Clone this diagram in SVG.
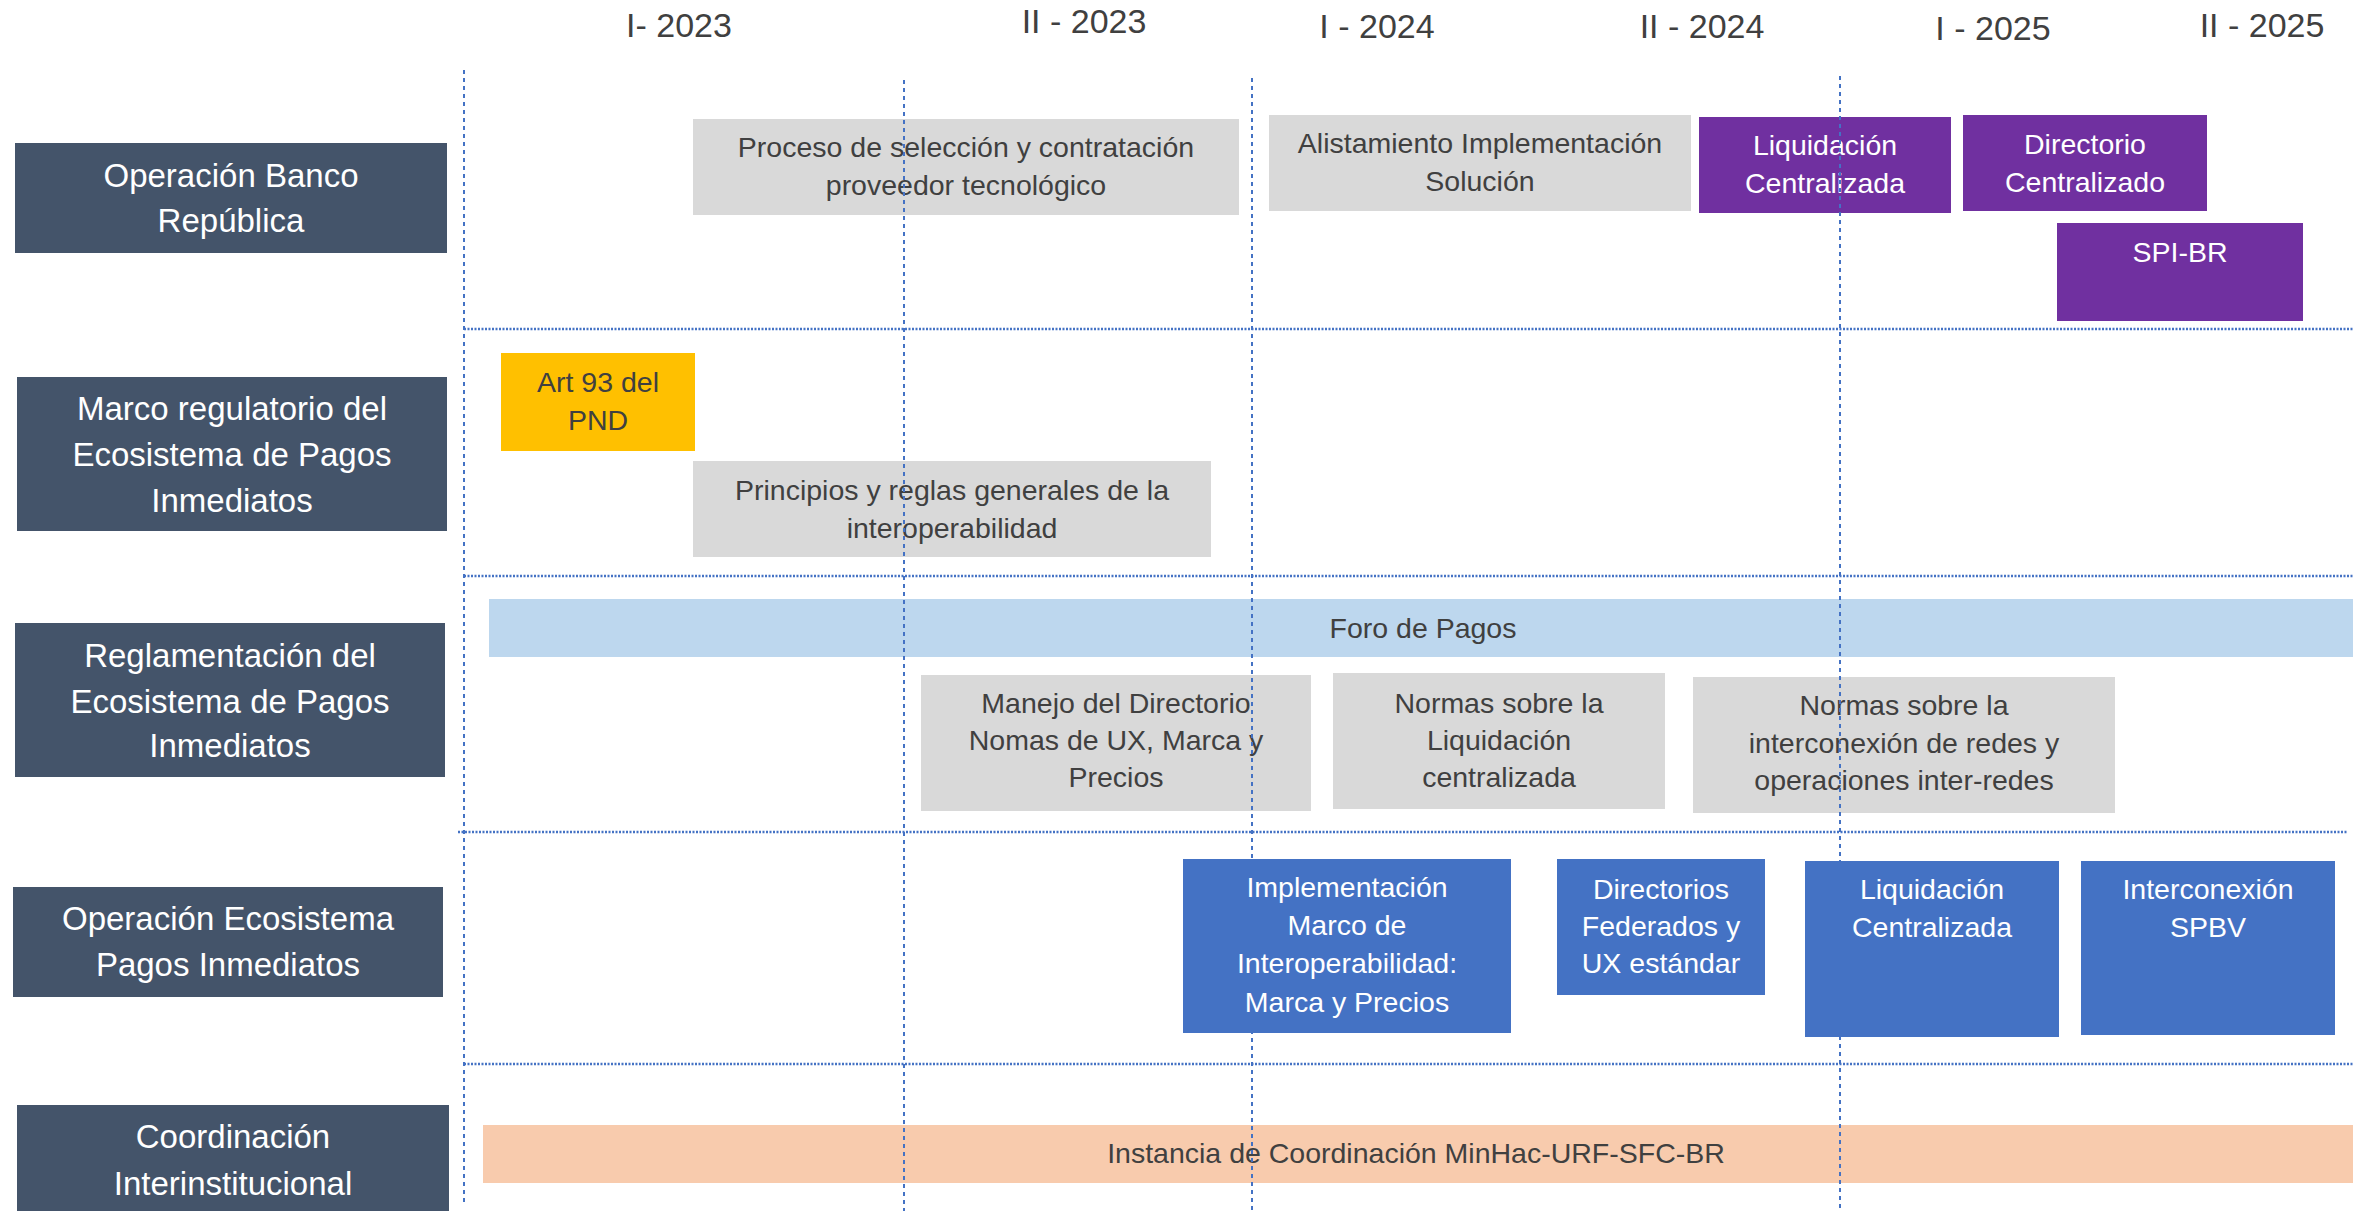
<svg xmlns="http://www.w3.org/2000/svg" width="2353" height="1211" viewBox="0 0 2353 1211">
<style>
text{font-family:"Liberation Sans",Arial,sans-serif;text-anchor:middle}
.hdr{font-size:34px;fill:#404040}
.lab{fill:#44546A}
.labt{font-size:33px;fill:#FFFFFF}
.gray{fill:#D9D9D9}
.purple{fill:#7030A0}
.blue{fill:#4472C4}
.dk{font-size:28.5px;fill:#404040}
.wt{font-size:28.5px;fill:#FFFFFF}
.vl{stroke:#4472C4;stroke-width:2;stroke-dasharray:4 4;fill:none}
.hl{stroke:#4472C4;stroke-width:2.5;stroke-dasharray:2 1.5;fill:none}
</style>
<rect width="2353" height="1211" fill="#FFFFFF"/>
<g id="headers">
<text class="hdr" x="679" y="37">I- 2023</text>
<text class="hdr" x="1084" y="33">II - 2023</text>
<text class="hdr" x="1377" y="38">I - 2024</text>
<text class="hdr" x="1702" y="38">II - 2024</text>
<text class="hdr" x="1993" y="40">I - 2025</text>
<text class="hdr" x="2262" y="37">II - 2025</text>
</g>
<g id="lane-banco">
<rect class="lab" x="15" y="143" width="432" height="110"/>
<text class="labt" x="231" y="187">Operación Banco</text>
<text class="labt" x="231" y="232">República</text>
</g>
<g id="lane-marco">
<rect class="lab" x="17" y="377" width="430" height="154"/>
<text class="labt" x="232" y="420">Marco regulatorio del</text>
<text class="labt" x="232" y="466">Ecosistema de Pagos</text>
<text class="labt" x="232" y="512">Inmediatos</text>
</g>
<g id="lane-reglamentacion">
<rect class="lab" x="15" y="623" width="430" height="154"/>
<text class="labt" x="230" y="667">Reglamentación del</text>
<text class="labt" x="230" y="713">Ecosistema de Pagos</text>
<text class="labt" x="230" y="757">Inmediatos</text>
</g>
<g id="lane-operacion">
<rect class="lab" x="13" y="887" width="430" height="110"/>
<text class="labt" x="228" y="930">Operación Ecosistema</text>
<text class="labt" x="228" y="976">Pagos Inmediatos</text>
</g>
<g id="lane-coordinacion">
<rect class="lab" x="17" y="1105" width="432" height="106"/>
<text class="labt" x="233" y="1148">Coordinación</text>
<text class="labt" x="233" y="1195">Interinstitucional</text>
</g>
<g id="proceso">
<rect class="gray" x="693" y="119" width="546" height="96"/>
<text class="dk" x="966" y="157">Proceso de selección y contratación</text>
<text class="dk" x="966" y="195">proveedor  tecnológico</text>
</g>
<g id="alistamiento">
<rect class="gray" x="1269" y="115" width="422" height="96"/>
<text class="dk" x="1480" y="153">Alistamiento Implementación</text>
<text class="dk" x="1480" y="191">Solución</text>
</g>
<g id="liquidacion-br">
<rect class="purple" x="1699" y="117" width="252" height="96"/>
<text class="wt" x="1825" y="155">Liquidación</text>
<text class="wt" x="1825" y="193">Centralizada</text>
</g>
<g id="directorio-br">
<rect class="purple" x="1963" y="115" width="244" height="96"/>
<text class="wt" x="2085" y="154">Directorio</text>
<text class="wt" x="2085" y="192">Centralizado</text>
</g>
<g id="spi-br">
<rect class="purple" x="2057" y="223" width="246" height="98"/>
<text class="wt" x="2180" y="262">SPI-BR</text>
</g>
<g id="art93">
<rect fill="#FFC000" x="501" y="353" width="194" height="98"/>
<text class="dk" x="598" y="392">Art 93 del</text>
<text class="dk" x="598" y="430">PND</text>
</g>
<g id="principios">
<rect class="gray" x="693" y="461" width="518" height="96"/>
<text class="dk" x="952" y="500">Principios y reglas generales de la</text>
<text class="dk" x="952" y="538">interoperabilidad</text>
</g>
<g id="foro">
<rect fill="#BDD7EE" x="489" y="599" width="1864" height="58"/>
<text class="dk" x="1423" y="638">Foro de Pagos</text>
</g>
<g id="manejo">
<rect class="gray" x="921" y="675" width="390" height="136"/>
<text class="dk" x="1116" y="713">Manejo del Directorio</text>
<text class="dk" x="1116" y="750">Nomas de UX, Marca y</text>
<text class="dk" x="1116" y="787">Precios</text>
</g>
<g id="normas-liquidacion">
<rect class="gray" x="1333" y="673" width="332" height="136"/>
<text class="dk" x="1499" y="713">Normas sobre la</text>
<text class="dk" x="1499" y="750">Liquidación</text>
<text class="dk" x="1499" y="787">centralizada</text>
</g>
<g id="normas-interconexion">
<rect class="gray" x="1693" y="677" width="422" height="136"/>
<text class="dk" x="1904" y="715">Normas sobre la</text>
<text class="dk" x="1904" y="753">interconexión de redes y</text>
<text class="dk" x="1904" y="790">operaciones inter-redes</text>
</g>
<g id="instancia">
<rect fill="#F8CBAD" x="483" y="1125" width="1870" height="58"/>
<text class="dk" x="1416" y="1163">Instancia de Coordinación MinHac-URF-SFC-BR</text>
</g>
<g id="connectors">
<line class="vl" x1="464" y1="70" x2="464" y2="1203"/>
<line class="vl" x1="904" y1="80" x2="904" y2="1211"/>
<line class="vl" x1="1252" y1="78" x2="1252" y2="1211"/>
<line class="vl" x1="1840" y1="76" x2="1840" y2="1211"/>
<line class="hl" x1="464" y1="329" x2="2353" y2="329"/>
<line class="hl" x1="464" y1="576" x2="2353" y2="576"/>
<line class="hl" x1="458" y1="832" x2="2347" y2="832"/>
<line class="hl" x1="464" y1="1064" x2="2353" y2="1064"/>
</g>
<g id="implementacion">
<rect class="blue" x="1183" y="859" width="328" height="174"/>
<text class="wt" x="1347" y="897">Implementación</text>
<text class="wt" x="1347" y="935">Marco de</text>
<text class="wt" x="1347" y="973">Interoperabilidad:</text>
<text class="wt" x="1347" y="1012">Marca y Precios</text>
</g>
<g id="directorios-federados">
<rect class="blue" x="1557" y="859" width="208" height="136"/>
<text class="wt" x="1661" y="899">Directorios</text>
<text class="wt" x="1661" y="936">Federados y</text>
<text class="wt" x="1661" y="973">UX estándar</text>
</g>
<g id="liquidacion-eco">
<rect class="blue" x="1805" y="861" width="254" height="176"/>
<text class="wt" x="1932" y="899">Liquidación</text>
<text class="wt" x="1932" y="937">Centralizada</text>
</g>
<g id="interconexion">
<rect class="blue" x="2081" y="861" width="254" height="174"/>
<text class="wt" x="2208" y="899">Interconexión</text>
<text class="wt" x="2208" y="937">SPBV</text>
</g>
</svg>
